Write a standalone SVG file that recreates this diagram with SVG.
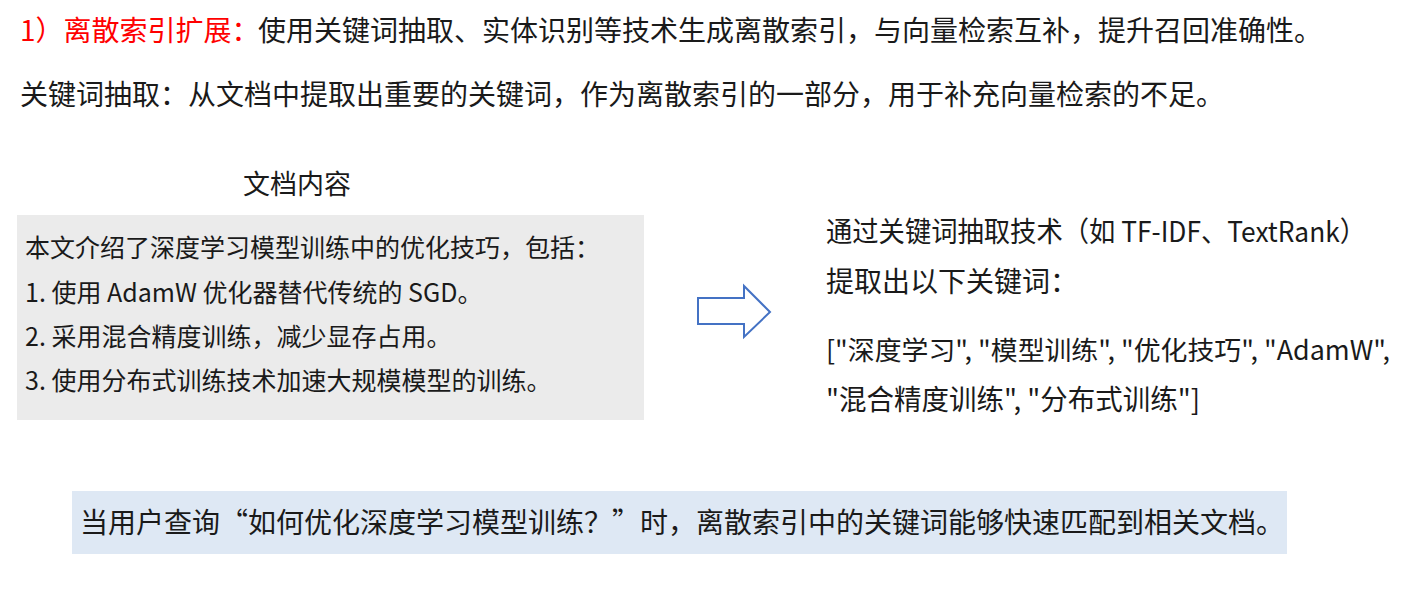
<svg xmlns="http://www.w3.org/2000/svg" width="1407" height="589" viewBox="0 0 1407 589">
<style>
text{font-family:"Noto Sans CJK SC","Liberation Sans",sans-serif;fill:#1a1a1a;}
.t28{font-size:28px;}
.t27{font-size:27px;}
.t26{font-size:26.5px;}
.t25{font-size:25px;}
.red{fill:#ff0000;}
</style>
<rect x="0" y="0" width="1407" height="589" fill="#ffffff"/>
<g id="heading">
<text class="t28" x="20" y="41"><tspan class="red">1）离散索引扩展：</tspan></text>
<text class="t28" x="258" y="41">使用关键词抽取、实体识别等技术生成离散索引，与向量检索互补，提升召回准确性。</text>
</g>
<g id="subheading">
<text class="t28" x="20" y="105">关键词抽取：从文档中提取出重要的关键词，作为离散索引的一部分，用于补充向量检索的不足。</text>
</g>
<g id="doc-label">
<text class="t27" x="243" y="194">文档内容</text>
</g>
<g id="doc-box">
<rect x="17" y="215" width="627" height="205" fill="#ebebeb"/>
<text class="t25" x="25" y="257">本文介绍了深度学习模型训练中的优化技巧，包括：</text>
<text class="t25" x="25" y="302">1. 使用 AdamW 优化器替代传统的 SGD。</text>
<text class="t25" x="25" y="346">2. 采用混合精度训练，减少显存占用。</text>
<text class="t25" x="25" y="390">3. 使用分布式训练技术加速大规模模型的训练。</text>
</g>
<g id="connectors">
<polygon points="698,298 744,298 744,286 770,312 744,337 744,324 698,324" fill="#ffffff" stroke="#4472c4" stroke-width="2" stroke-linejoin="miter"/>
</g>
<g id="keywords">
<text class="t28" x="826" y="242" textLength="540" lengthAdjust="spacingAndGlyphs">通过关键词抽取技术（如 TF-IDF、TextRank）</text>
<text class="t28" x="826" y="292">提取出以下关键词：</text>
<text class="t26" x="826" y="360" textLength="564" lengthAdjust="spacingAndGlyphs">["深度学习", "模型训练", "优化技巧", "AdamW",</text>
<text class="t28" x="826" y="410" textLength="374" lengthAdjust="spacingAndGlyphs">"混合精度训练", "分布式训练"]</text>
</g>
<g id="query-box">
<rect x="72" y="491" width="1215" height="63" fill="#dee8f4"/>
<text class="t28" x="80" y="533">当用户查询“如何优化深度学习模型训练？”时，离散索引中的关键词能够快速匹配到相关文档。</text>
</g>
</svg>
